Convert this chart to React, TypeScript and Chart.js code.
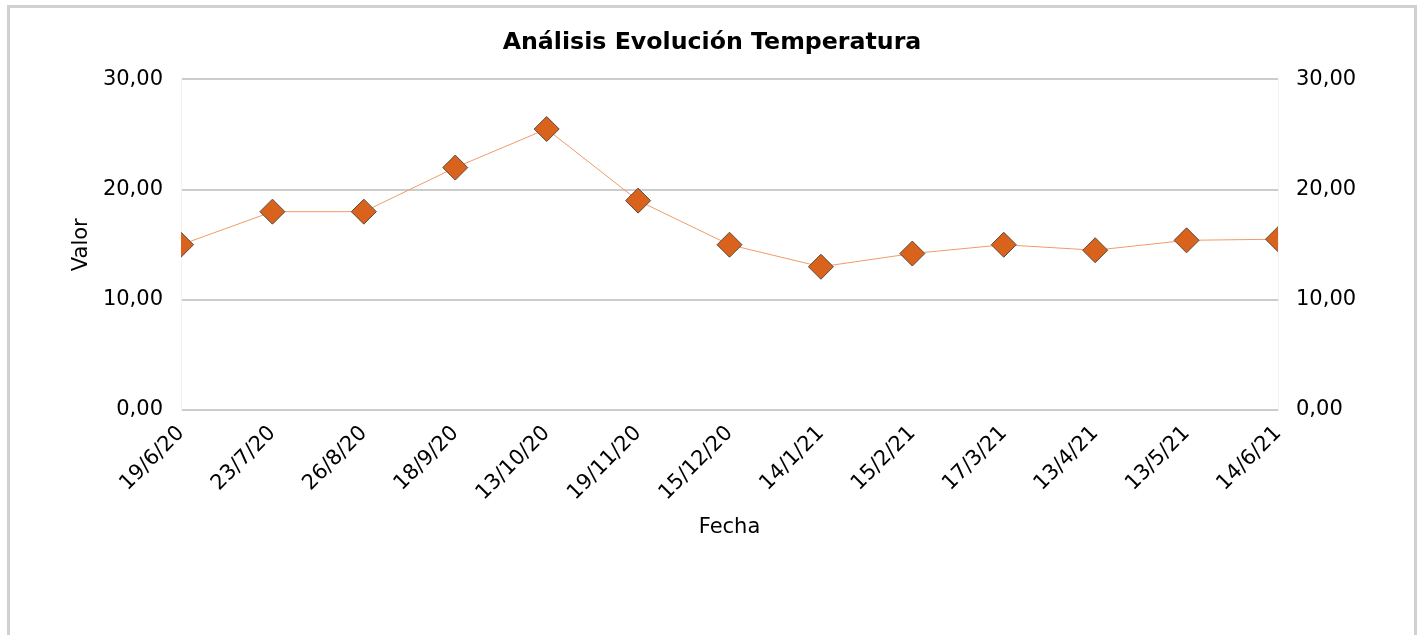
import React, { useEffect, useRef } from "react";
import { Chart, registerables } from "chart.js";

Chart.register(...registerables);

const fechas = [
  "19/6/20", "23/7/20", "26/8/20", "18/9/20", "13/10/20", "19/11/20", "15/12/20",
  "14/1/21", "15/2/21", "17/3/21", "13/4/21", "13/5/21", "14/6/21",
];
const temperaturas = [15.0, 18.0, 18.0, 22.0, 25.5, 19.0, 15.0, 13.0, 14.2, 15.0, 14.5, 15.4, 15.5];
const yTicks = [0, 10, 20, 30];

const fmt = (v: number) => v.toFixed(2).replace(".", ",");
const FONT = "'DejaVu Sans', Verdana, sans-serif";

export default function App() {
  const ref = useRef<HTMLCanvasElement | null>(null);
  useEffect(() => {
    if (!ref.current) return;
    const chart = new Chart(ref.current, {
      type: "line",
      data: {
        labels: fechas,
        datasets: [
          {
            label: "Temperatura",
            data: temperaturas,
            borderColor: "#f29a67",
            borderWidth: 1,
            backgroundColor: "#d9621c",
            pointStyle: "rectRot",
            pointRadius: 12.5,
            pointBackgroundColor: "#d9621c",
            pointBorderColor: "#5b4a3c",
            pointBorderWidth: 1,
            tension: 0,
            clip: 0,
            yAxisID: "y",
          },
        ],
      },
      options: {
        animation: false,
        responsive: false,
        layout: { padding: { left: 0, right: 0, top: 0, bottom: 0 } },
        plugins: {
          legend: { display: false },
          tooltip: { enabled: false },
          title: {
            display: true,
            text: "Análisis Evolución Temperatura",
            color: "#000",
            font: { family: FONT, size: 23.7, weight: "bold", lineHeight: 1.2 },
            padding: { top: 21, bottom: 22 },
          },
        },
        scales: {
          x: {
            type: "category",
            offset: false,
            grid: { display: false },
            border: { display: false },
            ticks: {
              color: "#000",
              font: { family: FONT, size: 21 },
              maxRotation: 45,
              minRotation: 45,
              autoSkip: false,
              padding: 3,
            },
            title: {
              display: true,
              text: "Fecha",
              color: "#000",
              font: { family: FONT, size: 21, lineHeight: 1.2 },
              padding: { top: 0, bottom: 95 },
            },
            afterFit: (s: any) => { s.height = 225; },
          },
          y: {
            position: "left",
            min: 0,
            max: 30,
            afterBuildTicks: (s: any) => { s.ticks = yTicks.map((v) => ({ value: v })); },
            grid: { color: "#cccccc", lineWidth: 2, drawTicks: false },
            border: { display: true, color: "#f2f2f2", width: 1 },
            ticks: {
              color: "#000",
              font: { family: FONT, size: 21 },
              padding: 18,
              callback: (v: any) => fmt(Number(v)),
            },
            title: {
              display: true,
              text: "Valor",
              color: "#000",
              font: { family: FONT, size: 21, lineHeight: 1.2 },
              padding: { top: 59, bottom: 0 },
            },
            afterFit: (s: any) => { s.width = 171; },
          },
          y2: {
            position: "right",
            min: 0,
            max: 30,
            afterBuildTicks: (s: any) => { s.ticks = yTicks.map((v) => ({ value: v })); },
            grid: { drawOnChartArea: false, drawTicks: false },
            border: { display: true, color: "#f2f2f2", width: 1 },
            ticks: {
              color: "#000",
              font: { family: FONT, size: 21 },
              padding: 18,
              callback: (v: any) => fmt(Number(v)),
            },
            afterFit: (s: any) => { s.width = 136; },
          },
        },
      } as any,
    });
    return () => chart.destroy();
  }, []);

  return (
    <div
      style={{
        position: "absolute",
        left: 7,
        top: 5,
        width: 1404,
        height: 660,
        border: "3px solid #d0d0d0",
        background: "#fff",
      }}
    >
      <canvas ref={ref} width={1404} height={627} style={{ display: "block", width: 1404, height: 627 }} />
    </div>
  );
}
